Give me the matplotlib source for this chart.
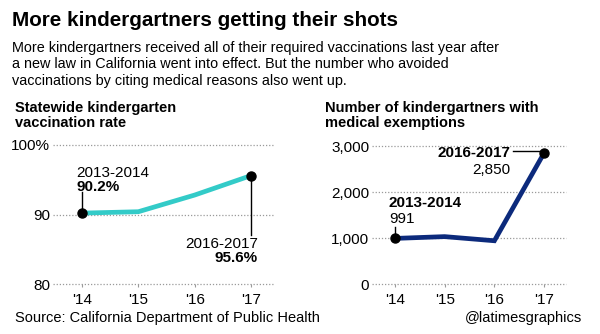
import numpy as np
import matplotlib.pyplot as plt

# data read from the graphic
years = ["'14", "'15", "'16", "'17"]
rate = [90.2, 90.4, 92.8, 95.6]          # % vaccinated
exempt = [991, 1030, 940, 2850]          # medical exemptions

rate_ticks = [80, 90, 100]
rate_labels = ['80', '90', '100%']
exempt_ticks = [0, 1000, 2000, 3000]
exempt_labels = ['0', '1,000', '2,000', '3,000']

teal = '#33cbc8'
navy = '#0c2a7c'
grid = '#9a9a9a'
body = 'Liberation Sans'

W, H = 600, 334
fig = plt.figure(figsize=(6, 3.34), dpi=100)


def px(x0, y0, x1, y1):
    # pixel box (top-left origin) -> figure rect
    return [x0 / W, 1 - y1 / H, (x1 - x0) / W, (y1 - y0) / H]


def style(ax, ticks, labels, lim):
    x = np.arange(len(years))
    ax.set_ylim(*lim)
    for t in ticks:
        ax.axhline(t, color=grid, lw=0.9, ls=(0, (1, 1.5)), zorder=0, clip_on=False)
    for s in ax.spines.values():
        s.set_visible(False)
    ax.set_yticks(ticks)
    ax.set_yticklabels(labels, fontsize=11, family=body)
    ax.tick_params(axis='y', length=0, pad=2)
    ax.set_xticks(x)
    ax.set_xticklabels(years, fontsize=11, family=body)
    ax.tick_params(axis='x', length=2.5, width=0.8, color=grid, pad=4)
    ax.patch.set_alpha(0)


# ---- left panel
ax1 = fig.add_axes(px(53, 145, 273, 284))
x = np.arange(len(years))
ax1.set_xlim(-0.515, 3.39)
style(ax1, rate_ticks, rate_labels, (80, 100))
ax1.plot(x, rate, color=teal, lw=3.4, solid_capstyle='butt', zorder=2)
ax1.plot([x[0], x[-1]], [rate[0], rate[-1]], 'o', color='black', ms=6.5, zorder=4)
ax1.plot([x[0], x[0]], [rate[0], 93.2], color='black', lw=1, zorder=3)
ax1.plot([x[-1], x[-1]], [rate[-1], 87.0], color='black', lw=1, zorder=3)
ax1.text(-0.1, 96.0, '2013-2014', fontsize=11, family=body, va='center', ha='left')
ax1.text(-0.1, 93.9, f'{rate[0]}%', fontsize=11, family=body, weight='bold',
         va='center', ha='left')
ax1.text(3.12, 85.8, '2016-2017', fontsize=11, family=body, va='center', ha='right')
ax1.text(3.12, 83.7, f'{rate[-1]}%', fontsize=11, family=body, weight='bold',
         va='center', ha='right')

# ---- right panel
ax2 = fig.add_axes(px(372, 146, 566, 284))
ax2.set_xlim(-0.46, 3.44)
style(ax2, exempt_ticks, exempt_labels, (0, 3000))
ax2.plot(x, exempt, color=navy, lw=3.4, solid_joinstyle='miter', zorder=2)
ax2.plot([x[0], x[-1]], [exempt[0], exempt[-1]], 'o', color='black', ms=6.5, zorder=4)
ax2.plot([x[0], x[0]], [exempt[0], 1250], color='black', lw=1, zorder=3)
ax2.plot([2.38, x[-1]], [2895, 2895], color='black', lw=1, zorder=3)
ax2.text(2.33, 2850, '2016-2017', fontsize=11, family=body, weight='bold',
         va='center', ha='right')
ax2.text(2.33, 2480, f'{exempt[-1]:,}', fontsize=11, family=body,
         va='center', ha='right')
ax2.text(-0.12, 1760, '2013-2014', fontsize=11, family=body, weight='bold',
         va='center', ha='left')
ax2.text(-0.12, 1410, f'{exempt[0]:,}', fontsize=11, family=body,
         va='center', ha='left')

# ---- headline, chatter, panel titles, credits
fig.text(12 / W, 1 - 20 / H, 'More kindergartners getting their shots',
         fontsize=14.9, family=body, weight='bold', va='center')
fig.text(12 / W, 1 - 41 / H,
         'More kindergartners received all of their required vaccinations last year after\n'
         'a new law in California went into effect. But the number who avoided\n'
         'vaccinations by citing medical reasons also went up.',
         fontsize=10.4, family=body, va='top', linespacing=1.22)
fig.text(15 / W, 1 - 101 / H, 'Statewide kindergarten\nvaccination rate',
         fontsize=10.5, family=body, weight='bold', va='top', linespacing=1.1)
fig.text(325 / W, 1 - 101 / H, 'Number of kindergartners with\nmedical exemptions',
         fontsize=10.5, family=body, weight='bold', va='top', linespacing=1.1)
fig.text(15 / W, 1 - 318 / H, 'Source: California Department of Public Health',
         fontsize=10.5, family=body, va='center')
fig.text(582 / W, 1 - 318 / H, '@latimesgraphics',
         fontsize=10.5, family=body, va='center', ha='right')

fig.savefig('out.png', dpi=100, facecolor='white')
